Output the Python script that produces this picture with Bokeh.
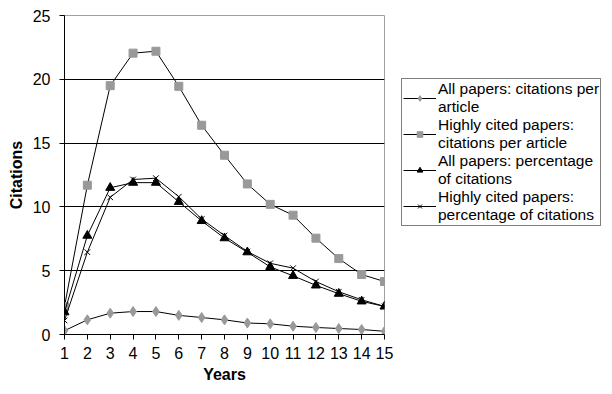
from bokeh.plotting import figure
from bokeh.models import Legend, LegendItem, FixedTicker, Range1d
from bokeh.embed import file_html
from bokeh.resources import INLINE

years = list(range(1, 16))
all_cpa = [0.3, 1.15, 1.67, 1.8, 1.8, 1.5, 1.33, 1.15, 0.9, 0.84, 0.65, 0.55, 0.47, 0.39, 0.25]
high_cpa = [2.2, 11.7, 19.5, 22.05, 22.2, 19.45, 16.4, 14.05, 11.8, 10.2, 9.35, 7.55, 5.95, 4.7, 4.15]
all_pct = [1.75, 7.75, 11.5, 11.9, 11.9, 10.4, 8.9, 7.55, 6.45, 5.3, 4.6, 3.85, 3.2, 2.6, 2.2]
high_pct = [1.1, 6.45, 10.75, 12.15, 12.25, 10.8, 9.05, 7.75, 6.5, 5.58, 5.2, 4.15, 3.35, 2.72, 2.2]
y_ticks = [0, 5, 10, 15, 20, 25]

FONT = "Liberation Sans"

p = figure(frame_width=320, frame_height=319, output_backend="svg", toolbar_location=None,
           x_range=Range1d(1, 15), y_range=Range1d(0, 25),
           min_border_left=64, min_border_right=0, min_border_top=15,
           min_border_bottom=60, background_fill_color="white",
           border_fill_color="white")

p.outline_line_color = "#a0a0a0"
p.xgrid.visible = False
p.ygrid.ticker = FixedTicker(ticks=y_ticks)
p.ygrid.grid_line_color = "black"
p.ygrid.grid_line_width = 1

p.xaxis.ticker = FixedTicker(ticks=years)
p.yaxis.ticker = FixedTicker(ticks=y_ticks)
for ax in (p.xaxis[0], p.yaxis[0]):
    ax.axis_line_color = "black"
    ax.major_tick_line_color = "black"
    ax.major_tick_out = 5
    ax.major_tick_in = 0
    ax.minor_tick_line_color = None
    ax.major_label_text_font = FONT
    ax.major_label_text_font_size = "16px"
    ax.major_label_text_color = "black"
    ax.axis_label_text_font = FONT
    ax.axis_label_text_font_size = "16px"
    ax.axis_label_text_font_style = "bold"
    ax.axis_label_text_color = "black"
p.xaxis.axis_label = "Years"
p.yaxis.axis_label = "Citations"
p.xaxis.major_label_standoff = 7
p.yaxis.major_label_standoff = 9
p.yaxis.axis_label_standoff = 5
p.xaxis.axis_label_standoff = 4
p.yaxis.major_label_orientation = "horizontal"

gray = "#999999"
r1l = p.line(years, all_cpa, line_color="black", line_width=1)
r1m = p.scatter(years, all_cpa, marker="diamond", size=10, fill_color=gray, line_color=gray)
r2l = p.line(years, high_cpa, line_color="black", line_width=1)
r2m = p.scatter(years, high_cpa, marker="square", size=8, fill_color=gray, line_color=gray)
r3l = p.line(years, all_pct, line_color="black", line_width=1)
r3m = p.scatter(years, all_pct, marker="triangle", size=9, fill_color="black", line_color="black")
r4l = p.line(years, high_pct, line_color="black", line_width=1)
r4m = p.scatter(years, high_pct, marker="x", size=8, line_color="black", line_width=1)

legend = Legend(items=[
    LegendItem(label="All papers: citations per\narticle", renderers=[r1l, r1m]),
    LegendItem(label="Highly cited papers:\ncitations per article", renderers=[r2l, r2m]),
    LegendItem(label="All papers: percentage\nof citations", renderers=[r3l, r3m]),
    LegendItem(label="Highly cited papers:\npercentage of citations", renderers=[r4l, r4m]),
], location=(17, 108))
legend.border_line_color = "black"
legend.border_line_width = 1
legend.background_fill_color = "white"
legend.label_text_font = FONT
legend.label_text_font_size = "15.5px"
legend.label_text_color = "black"
legend.glyph_width = 33
legend.glyph_height = 14
legend.label_standoff = 2
legend.spacing = 0
legend.padding = 1
legend.margin = 0
legend.label_height = 34
p.add_layout(legend, "right")

open("out.html", "w").write(file_html(p, INLINE))
